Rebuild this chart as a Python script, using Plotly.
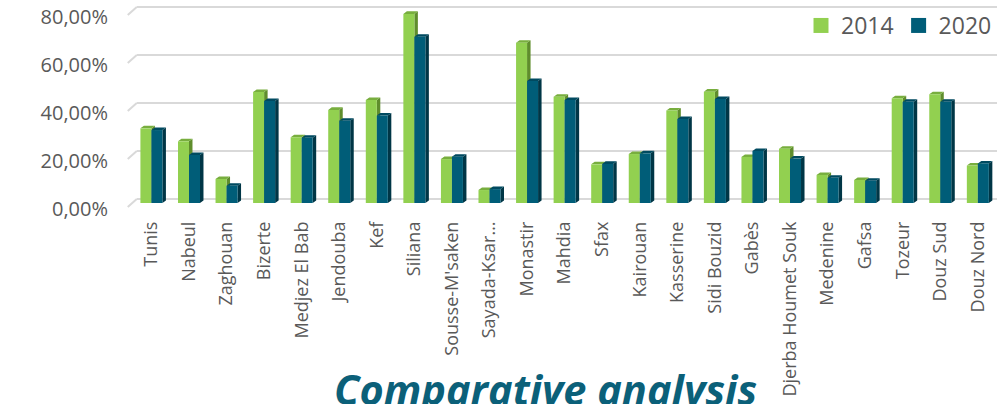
import plotly.graph_objects as go

# Regions compared
regions = [
    "Tunis", "Nabeul", "Zaghouan", "Bizerte", "Medjez El Bab", "Jendouba", "Kef",
    "Siliana", "Sousse-M'saken", "Sayada-Ksar…", "Monastir", "Mahdia", "Sfax",
    "Kairouan", "Kasserine", "Sidi Bouzid", "Gabès", "Djerba Houmet Souk",
    "Medenine", "Gafsa", "Tozeur", "Douz Sud", "Douz Nord",
]

# Rates (%) per year
rate_2014 = [31.1, 25.7, 10.0, 46.2, 27.4, 38.8, 42.9, 78.8, 18.3, 5.4, 66.8, 44.3,
             16.1, 20.4, 38.5, 46.4, 19.2, 22.6, 11.7, 9.6, 43.6, 45.3, 15.6]
rate_2020 = [30.4, 20.0, 7.2, 42.5, 27.2, 34.3, 36.5, 69.3, 19.3, 5.8, 50.8, 42.9,
             16.3, 20.7, 35.0, 43.3, 21.7, 18.5, 10.5, 9.3, 42.2, 42.2, 16.5]

# Axis ticks
tick_values = [0, 20, 40, 60, 80]
tick_labels = ["0,00%", "20,00%", "40,00%", "60,00%", "80,00%"]

# Palette (front / side / top faces)
GREEN = ("#92D050", "#5F8D2C", "#78AE3E")
TEAL = ("#005D78", "#003646", "#004A60")
GRID = "#D9D9D9"
TEXT = "#595959"

# Pseudo-3D geometry in data units
W = 0.293        # width of one column
DX = 0.093       # depth shift along x
DY = 1.05        # depth shift along y (%)
WALL = 1.67      # distance of back wall from the column plane (%)

x_idx = list(range(len(regions)))

fig = go.Figure()


def faces(values, x0):
    side_x, side_y, top_x, top_y = [], [], [], []
    for i, v in zip(x_idx, values):
        l, r = i + x0, i + x0 + W
        side_x += [r, r + DX, r + DX, r, r, None]
        side_y += [0, DY, v + DY, v, 0, None]
        top_x += [l, l + DX, r + DX, r, l, None]
        top_y += [v, v + DY, v + DY, v, v, None]
    return side_x, side_y, top_x, top_y


def add_series(values, x0, colors, z):
    sx, sy, tx, ty = faces(values, x0)
    fig.add_trace(go.Scatter(x=sx, y=sy, mode="lines", fill="toself",
                             fillcolor=colors[1], line=dict(width=0, color=colors[1]),
                             hoverinfo="skip", showlegend=False, zorder=z))
    fig.add_trace(go.Scatter(x=tx, y=ty, mode="lines", fill="toself",
                             fillcolor=colors[2], line=dict(width=0, color=colors[2]),
                             hoverinfo="skip", showlegend=False, zorder=z))
    fig.add_trace(go.Bar(x=x_idx, y=values, width=W, offset=x0,
                         marker=dict(color=colors[0], line=dict(width=0)),
                         showlegend=False, zorder=z + 1))


add_series(rate_2014, -W, GREEN, 1)
add_series(rate_2020, 0.0, TEAL, 3)

# legend entries
for name, col in (("2014", GREEN[0]), ("2020", TEAL[0])):
    fig.add_trace(go.Scatter(x=[None], y=[None], mode="markers", name=name,
                             marker=dict(symbol="square", size=15, color=col)))

# back-wall gridlines with the slanted floor/wall edge on the left
X_FRONT, X_BACK, X_END = -0.63, -0.39, 22.6
for v in tick_values:
    fig.add_shape(type="line", x0=X_FRONT, y0=v - WALL, x1=X_BACK, y1=v + WALL,
                  line=dict(color=GRID, width=2), layer="below")
    fig.add_shape(type="line", x0=X_BACK, y0=v + WALL, x1=X_END, y1=v + WALL,
                  line=dict(color=GRID, width=2), layer="below")

fig.add_annotation(text="<b><i>Comparative analysis</i></b>", xref="paper", yref="paper",
                   x=0.4816, y=-0.725, xanchor="center", yanchor="top", showarrow=False,
                   font=dict(family="Open Sans", size=41.5, color="#0B6079"))

fig.update_layout(
    width=999, height=404,
    margin=dict(l=127, r=2, t=4, b=194),
    paper_bgcolor="white", plot_bgcolor="white",
    barmode="overlay",
    font=dict(family="Open Sans", color=TEXT),
    showlegend=True,
    legend=dict(orientation="h", x=1.0, xanchor="right", y=1.0, yanchor="top",
                font=dict(size=23, color=TEXT), bgcolor="rgba(0,0,0,0)",
                itemwidth=30),
    xaxis=dict(range=[-0.65, 22.51], tickmode="array", tickvals=x_idx, ticktext=regions,
               tickangle=-90, tickfont=dict(size=18, color=TEXT), showgrid=False,
               zeroline=False, showline=False, ticks="", ticklabelstandoff=7),
    yaxis=dict(range=[-2.917, 82.917], tickmode="array",
               tickvals=[v - 2.7 for v in tick_values], ticktext=tick_labels,
               tickfont=dict(size=20, color=TEXT), showgrid=False, zeroline=False,
               showline=False, ticks="", ticklabelstandoff=18),
)

fig.write_html("out.html")
